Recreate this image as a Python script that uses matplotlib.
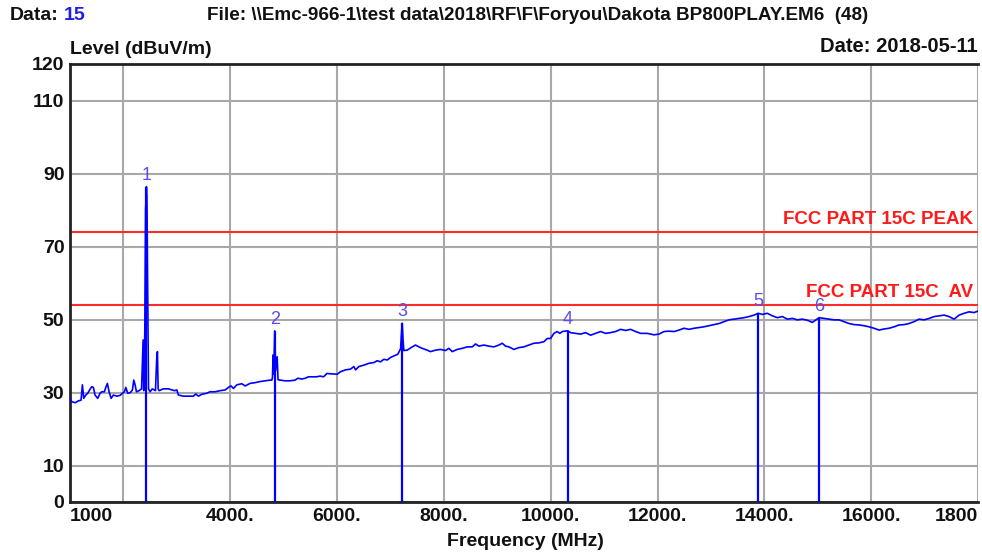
import matplotlib
matplotlib.use('Agg')
import matplotlib.pyplot as plt

plt.rcParams['font.family'] = ['Liberation Sans', 'DejaVu Sans']

# measured trace (MHz, dBuV/m)
freq_mhz = [
    1001, 1032, 1095, 1157, 1207, 1232, 1257, 1295, 1332, 1376, 1407, 1438,
    1469, 1519, 1563, 1594, 1644, 1675, 1700, 1732, 1769, 1813, 1875, 1938,
    1981, 2019, 2044, 2081, 2131, 2169, 2194, 2219, 2244, 2293, 2340, 2369,
    2380, 2400, 2415, 2431, 2440, 2455, 2470, 2500, 2540, 2600, 2625, 2637,
    2650, 2668, 2749, 2843, 2955, 3000, 3030, 3124, 3217, 3311, 3355, 3405,
    3467, 3561, 3623, 3717, 3810, 3904, 3967, 4017, 4060, 4123, 4216, 4279,
    4372, 4466, 4560, 4653, 4747, 4778, 4790, 4804, 4815, 4833, 4850, 4879,
    4895, 4934, 5028, 5122, 5215, 5265, 5340, 5403, 5465, 5559, 5621, 5683,
    5746, 5784, 5808, 6002, 6065, 6158, 6252, 6314, 6346, 6408, 6502, 6595,
    6689, 6751, 6814, 6876, 6939, 7001, 7064, 7138, 7190, 7205, 7220, 7235,
    7250, 7313, 7407, 7469, 7532, 7594, 7688, 7750, 7844, 7937, 8031, 8094,
    8156, 8250, 8343, 8437, 8531, 8593, 8655, 8749, 8843, 8936, 9030, 9092,
    9155, 9217, 9311, 9405, 9498, 9592, 9686, 9779, 9873, 9935, 9998, 10060,
    10122, 10172, 10216, 10322, 10372, 10466, 10560, 10653, 10747, 10840, 10934, 11028,
    11121, 11215, 11309, 11402, 11496, 11590, 11683, 11809, 11934, 12027, 12121, 12215,
    12308, 12402, 12496, 12589, 12683, 12776, 12870, 12964, 13057, 13151, 13245, 13338,
    13432, 13526, 13619, 13713, 13807, 13882, 13963, 14056, 14150, 14244, 14337, 14431,
    14525, 14618, 14712, 14805, 14899, 15024, 15117, 15211, 15305, 15398, 15492, 15586,
    15680, 15773, 15867, 15960, 16054, 16148, 16241, 16335, 16429, 16522, 16616, 16710,
    16803, 16897, 16991, 17084, 17178, 17272, 17365, 17459, 17552, 17646, 17740, 17833,
    17927, 18000,
]
level_dbuv = [
    28.4, 27.5, 27.2, 27.7, 27.9, 32.1, 28.4, 29.3, 29.8, 30.9, 31.6, 31.4,
    29.3, 28.4, 29.8, 30.2, 30.2, 31.6, 32.5, 30.2, 28.4, 29.3, 29.0, 29.2,
    29.8, 30.2, 31.4, 29.8, 30.0, 30.7, 33.4, 32.1, 30.2, 30.5, 31.0, 44.4,
    30.5, 46.0, 80.0, 86.4, 84.0, 59.0, 31.0, 30.2, 31.0, 30.5, 39.8, 41.2,
    31.0, 30.5, 31.0, 31.0, 30.5, 30.7, 29.3, 29.0, 29.0, 29.0, 29.6, 29.0,
    29.5, 29.8, 30.2, 30.2, 30.5, 30.7, 31.4, 31.8, 31.1, 32.1, 32.4, 31.8,
    32.5, 32.7, 33.0, 33.2, 33.4, 33.4, 34.0, 40.3, 35.0, 46.9, 36.0, 39.8,
    33.5, 33.4, 33.2, 33.2, 33.4, 33.9, 33.7, 33.9, 34.3, 34.3, 34.3, 34.5,
    34.3, 34.8, 35.2, 35.0, 35.7, 36.2, 36.4, 37.1, 36.2, 37.1, 37.5, 38.0,
    38.2, 38.7, 38.4, 39.1, 38.9, 39.6, 40.0, 40.5, 42.0, 46.0, 49.0, 44.5,
    41.5, 41.6, 42.5, 43.0, 42.5, 42.1, 41.6, 41.2, 41.6, 41.8, 41.5, 42.1,
    41.2, 41.8, 42.1, 42.5, 42.5, 43.3, 42.7, 43.0, 42.7, 42.5, 43.0, 43.5,
    42.7, 42.5, 41.8, 42.3, 42.5, 43.0, 43.5, 43.6, 43.9, 44.8, 44.8, 46.2,
    46.7, 46.2, 46.7, 46.9, 46.4, 46.2, 46.0, 46.4, 45.7, 46.2, 46.7, 46.2,
    46.4, 46.7, 47.3, 47.0, 47.3, 46.7, 46.2, 46.2, 45.8, 46.0, 46.7, 46.8,
    46.7, 47.1, 47.6, 47.3, 47.6, 47.8, 48.0, 48.3, 48.6, 48.9, 49.4, 49.9,
    50.1, 50.3, 50.5, 50.8, 51.2, 51.7, 51.4, 51.7, 51.0, 50.5, 50.8, 50.1,
    50.3, 49.9, 50.1, 49.8, 49.2, 50.5, 50.3, 50.1, 49.9, 49.9, 49.4, 48.9,
    48.6, 48.5, 48.3, 48.0, 47.6, 47.1, 47.4, 47.6, 48.0, 48.5, 48.6, 48.9,
    49.4, 50.1, 49.9, 50.3, 50.8, 51.0, 51.2, 50.8, 50.1, 51.2, 51.7, 52.1,
    51.9, 52.3,
]

# peak markers
marker_ids = ['1', '2', '3', '4', '5', '6']
marker_freq = [2431, 4833, 7220, 10322, 13882, 15024]
marker_level = [86.4, 46.9, 49.0, 46.9, 51.7, 50.5]

# limit lines
limit_names = ['FCC PART 15C PEAK', 'FCC PART 15C  AV']
limit_levels = [74, 54]

x_ticks = [1000, 2000, 4000, 6000, 8000, 10000, 12000, 14000, 16000, 18000]
x_labels = ['1000', '', '4000.', '6000.', '8000.', '10000.', '12000.',
            '14000.', '16000.', '1800']
y_ticks = [0, 10, 30, 50, 70, 90, 110, 120]

W, H = 982, 556
fig = plt.figure(figsize=(W / 100, H / 100), dpi=100)
ax = fig.add_axes([70 / W, 1 - 502 / H, 908 / W, 438 / H])

txt = dict(fontsize=14, fontweight='bold', color='#111111')

ax.plot(freq_mhz, level_dbuv, color='#0000ff', lw=1.2, zorder=3)

for mid, f, lv in zip(marker_ids, marker_freq, marker_level):
    ax.vlines(f, 0, lv, color='#0000ff', lw=1.6, zorder=4)
    ax.text(f, lv + 0.8, mid, ha='center', va='bottom', fontsize=13,
            color='#5a4cf0', zorder=5)

for name, lv in zip(limit_names, limit_levels):
    ax.axhline(lv, color='#ff2a2a', lw=1.5, zorder=2)
    ax.text(17900, lv + 1.2, name, ha='right', va='bottom', fontsize=13.5,
            fontweight='bold', color='#ff1a1a', zorder=5)

ax.set_xlim(1000, 18000)
ax.set_ylim(0, 120)
ax.set_xticks(x_ticks)
ax.set_xticklabels(x_labels)
ax.set_yticks(y_ticks)
ax.grid(True, color='#a8a8a8', lw=1.5, zorder=1)
ax.tick_params(length=0, labelsize=14, pad=4)
for lbl in ax.get_xticklabels() + ax.get_yticklabels():
    lbl.set_fontweight('bold')
    lbl.set_color('#111111')
xl = ax.get_xticklabels()
xl[0].set_horizontalalignment('left')
xl[-1].set_horizontalalignment('right')

for side in ['left', 'bottom', 'top']:
    ax.spines[side].set_linewidth(2)
    ax.spines[side].set_color('#222222')
ax.spines['right'].set_visible(False)

fig.text(10 / W, 1 - 15 / H, 'Data:', ha='left', va='center', **txt)
fig.text(64 / W, 1 - 15 / H, '15', ha='left', va='center',
         fontsize=14, fontweight='bold', color='#2020e0')
fig.text(207 / W, 1 - 15 / H,
         'File: \\\\Emc-966-1\\test data\\2018\\RF\\F\\Foryou\\Dakota BP800PLAY.EM6  (48)',
         ha='left', va='center', fontsize=13.6, fontweight='bold', color='#111111')
fig.text(978 / W, 1 - 47 / H, 'Date: 2018-05-11', ha='right', va='center',
         fontsize=14.5, fontweight='bold', color='#111111')
fig.text(70 / W, 1 - 50 / H, 'Level (dBuV/m)', ha='left', va='center', **txt)
fig.text(525 / W, 1 - 542 / H, 'Frequency (MHz)', ha='center', va='center', **txt)

fig.savefig('out.png', dpi=100)
